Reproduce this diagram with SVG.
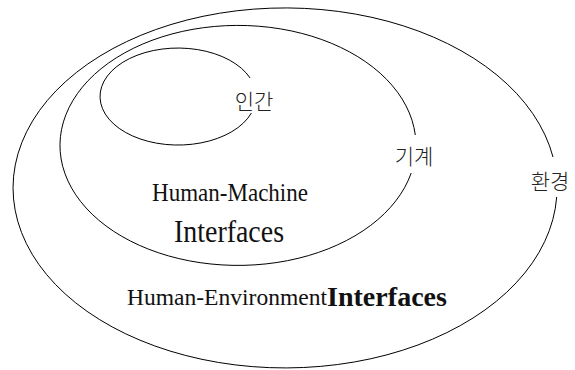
<svg xmlns="http://www.w3.org/2000/svg" width="575" height="370" viewBox="0 0 575 370">
  <style>
    .ring { fill: none; stroke: #000; stroke-width: 1; }
    .ko { font-family: "Noto Sans CJK KR", "Noto Sans", sans-serif; font-size: 21px; font-weight: 300; fill: #222; text-anchor: middle; }
    .en { font-family: "Liberation Serif", "Times New Roman", serif; fill: #111; }
  </style>
  <rect width="575" height="370" fill="#fff"/>
  <g id="environment">
    <path class="ring" d="M 553 157 A 272 180 0 1 0 556.7 197"/>
    <text class="ko" x="550" y="189">환경</text>
  </g>
  <g id="machine">
    <path class="ring" d="M 415.3 135 A 178 120 0 1 0 411.2 173"/>
    <text class="ko" x="414" y="164">기계</text>
  </g>
  <g id="human">
    <path class="ring" d="M 250.1 78 A 78 48.5 0 1 0 251.4 113"/>
    <text class="ko" x="254" y="108.5">인간</text>
  </g>
  <g id="hm-interfaces">
    <text class="en" x="152" y="200.5" font-size="25" textLength="156" lengthAdjust="spacingAndGlyphs">Human-Machine</text>
    <text class="en" x="174" y="241.5" font-size="31" textLength="110" lengthAdjust="spacingAndGlyphs">Interfaces</text>
  </g>
  <g id="he-interfaces">
    <text class="en" x="127" y="305" font-size="23" textLength="200" lengthAdjust="spacingAndGlyphs">Human-Environment</text>
    <text class="en" x="327" y="306" font-size="28" font-weight="bold" textLength="120" lengthAdjust="spacingAndGlyphs">Interfaces</text>
  </g>
  <g id="connectors"></g>
</svg>
